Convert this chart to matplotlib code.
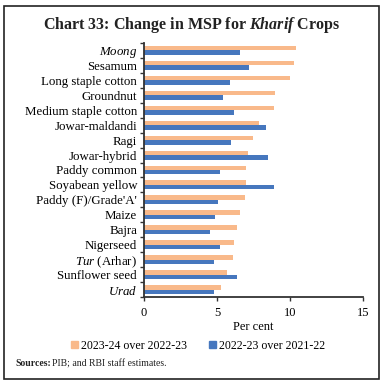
import numpy as np
import matplotlib.pyplot as plt
from matplotlib.patches import Patch, Rectangle

plt.rcParams['font.family'] = ['Liberation Serif', 'DejaVu Serif']
plt.rcParams['mathtext.fontset'] = 'custom'
plt.rcParams['mathtext.rm'] = 'Liberation Serif'
plt.rcParams['mathtext.it'] = 'Liberation Serif:italic'
plt.rcParams['mathtext.bf'] = 'Liberation Serif:bold'
plt.rcParams['mathtext.bfit'] = 'Liberation Serif:italic:bold'

# crops, top to bottom
crops = [r'$\it{Moong}$', 'Sesamum', 'Long staple cotton', 'Groundnut',
         'Medium staple cotton', 'Jowar-maldandi', 'Ragi', 'Jowar-hybrid',
         'Paddy common', 'Soyabean yellow', "Paddy (F)/Grade'A'", 'Maize',
         'Bajra', 'Nigerseed', r'$\it{Tur}$ (Arhar)', 'Sunflower seed',
         r'$\it{Urad}$']
# 2023-24 over 2022-23
chg_2324 = [10.4, 10.3, 10.0, 9.0, 8.9, 7.9, 7.5, 7.1, 7.0, 7.0, 6.9,
            6.6, 6.4, 6.2, 6.1, 5.7, 5.3]
# 2022-23 over 2021-22
chg_2223 = [6.6, 7.2, 5.9, 5.4, 6.2, 8.4, 6.0, 8.5, 5.2, 8.9, 5.1,
            4.9, 4.5, 5.2, 4.8, 6.4, 4.8]
lab_2324 = '2023-24 over 2022-23'
lab_2223 = '2022-23 over 2021-22'

c_orange = '#F9B98A'
c_blue = '#4677BE'

fig = plt.figure(figsize=(3.83, 3.86), dpi=100)
ax = fig.add_axes([0.376, 0.2306, 0.571, 0.658])

y = np.arange(len(crops))
h = 0.3
ax.barh(y - h / 2, chg_2324, height=h, color=c_orange)
ax.barh(y + h / 2, chg_2223, height=h, color=c_blue)

ax.set_ylim(len(crops) - 0.5, -0.5)
ax.set_xlim(0, 15)
ax.set_xticks([0, 5, 10, 15])
ax.set_yticks(y)
ax.set_yticklabels(crops, fontsize=9.3)
ax.set_yticks(np.arange(-0.5, len(crops)), minor=True)
ax.tick_params(axis='y', which='major', length=0, pad=5)
ax.tick_params(axis='y', which='minor', length=3, width=1, color='#333333')
ax.tick_params(axis='x', length=3, width=1, color='#333333', labelsize=9, pad=4)
for s in ['top', 'right']:
    ax.spines[s].set_visible(False)
for s in ['left', 'bottom']:
    ax.spines[s].set_linewidth(1.3)
    ax.spines[s].set_color('#333333')
ax.set_xlabel('Per cent', fontsize=9, labelpad=2)

fig.text(0.5, 0.935, r'Chart 33: Change in MSP for $\mathbfit{Kharif}$ Crops',
         ha='center', va='center', fontsize=11.5, fontweight='bold', color='#222222')

handles = [Patch(color=c_orange), Patch(color=c_blue)]
fig.legend(handles, [lab_2324, lab_2223], loc='center', ncol=2,
           bbox_to_anchor=(0.517, 0.104), frameon=False, fontsize=8.6,
           handlelength=0.6, handleheight=0.6, handletextpad=0.2,
           columnspacing=1.9)

fig.text(0.04, 0.057, 'Sources:', ha='left', va='center', fontsize=7,
         fontweight='bold', color='#222222')
fig.text(0.137, 0.057, 'PIB; and RBI staff estimates.', ha='left', va='center',
         fontsize=7, color='#222222')

fig.patches.append(Rectangle((4 / 383, 7 / 386), 375 / 383, 373 / 386,
                             transform=fig.transFigure, fill=False,
                             edgecolor='#222222', linewidth=1.2))

plt.savefig('out.png')
